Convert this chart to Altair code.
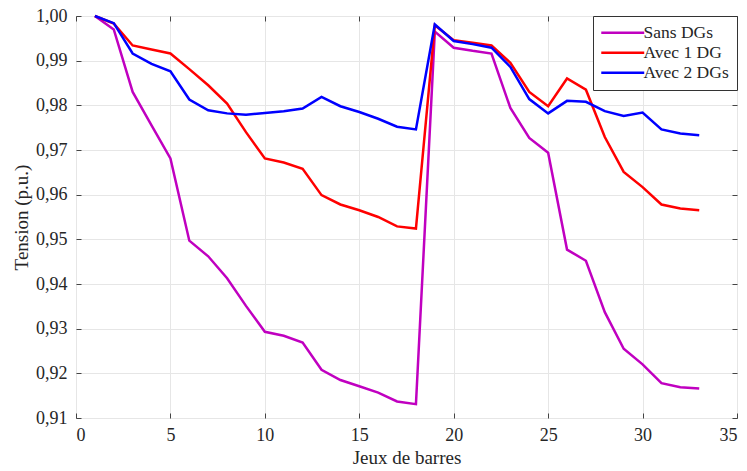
import altair as alt
import pandas as pd

# Bus numbers of the 33-bus feeder
bus = list(range(1, 34))

# Voltage profile per bus (p.u.)
sans_dg = [1.0000, 0.9970, 0.9830, 0.9755, 0.9681, 0.9497, 0.9462, 0.9413, 0.9351, 0.9293,
           0.9284, 0.9269, 0.9208, 0.9185, 0.9171, 0.9157, 0.9137, 0.9131, 0.9965, 0.9929,
           0.9922, 0.9916, 0.9794, 0.9727, 0.9694, 0.9477, 0.9452, 0.9337, 0.9255, 0.9220,
           0.9178, 0.9169, 0.9166]
avec_1dg = [1.0000, 0.9983, 0.9934, 0.9925, 0.9916, 0.9881, 0.9845, 0.9804, 0.9740, 0.9681,
            0.9672, 0.9658, 0.9599, 0.9578, 0.9565, 0.9550, 0.9529, 0.9524, 0.9979, 0.9946,
            0.9940, 0.9934, 0.9895, 0.9830, 0.9798, 0.9860, 0.9835, 0.9729, 0.9651, 0.9617,
            0.9578, 0.9569, 0.9565]
avec_2dg = [1.0000, 0.9984, 0.9916, 0.9893, 0.9876, 0.9813, 0.9789, 0.9782, 0.9779, 0.9783,
            0.9787, 0.9793, 0.9819, 0.9798, 0.9785, 0.9770, 0.9752, 0.9746, 0.9981, 0.9944,
            0.9937, 0.9929, 0.9886, 0.9814, 0.9782, 0.9810, 0.9808, 0.9787, 0.9776, 0.9784,
            0.9746, 0.9737, 0.9733]

series_names = ["Sans DGs", "Avec 1 DG", "Avec 2 DGs"]
series_colors = ["#c000c0", "#ff0000", "#0000ff"]

x_ticks = [0, 5, 10, 15, 20, 25, 30, 35]
y_ticks = [0.91, 0.92, 0.93, 0.94, 0.95, 0.96, 0.97, 0.98, 0.99, 1.00]

rows = []
for name, vals in zip(series_names, [sans_dg, avec_1dg, avec_2dg]):
    for b, v in zip(bus, vals):
        rows.append({"bus": b, "tension": v, "serie": name})
df = pd.DataFrame(rows)

FONT = "Liberation Serif"
INK = "#262626"
xscale = alt.Scale(domain=[0, 35], nice=False)
yscale = alt.Scale(domain=[0.91, 1.0], nice=False, zero=False)
comma_fmt = "replace(format(datum.value, '.2f'), '.', ',')"

lines = alt.Chart(df).mark_line(strokeWidth=2.5).encode(
    x=alt.X("bus:Q", scale=xscale,
            axis=alt.Axis(values=x_ticks, title="Jeux de barres", grid=True, ticks=False,
                          domain=False, labelPadding=8, titlePadding=4)),
    y=alt.Y("tension:Q", scale=yscale,
            axis=alt.Axis(values=y_ticks, labelExpr=comma_fmt, title="Tension (p.u.)",
                          grid=True, ticks=False, domain=False, labelPadding=9,
                          titlePadding=4)),
    color=alt.Color("serie:N",
                    scale=alt.Scale(domain=series_names, range=series_colors),
                    legend=alt.Legend(title=None, orient="top-right", offset=0)),
)


def tick_axis(orient, values):
    # Inward-pointing tick marks (no labels), as on a boxed plot frame
    return alt.Axis(orient=orient, values=values, labels=False, title=None, grid=False,
                    domain=False, ticks=True, tickSize=5, offset=-5, tickColor="#444444")


ticks_bl = alt.Chart(df).mark_point(opacity=0).encode(
    x=alt.X("bus:Q", scale=xscale, axis=tick_axis("bottom", x_ticks)),
    y=alt.Y("tension:Q", scale=yscale, axis=tick_axis("left", y_ticks)),
)
ticks_tr = alt.Chart(df).mark_point(opacity=0).encode(
    x=alt.X("bus:Q", scale=xscale, axis=tick_axis("top", x_ticks)),
    y=alt.Y("tension:Q", scale=yscale, axis=tick_axis("right", y_ticks)),
)

chart = (
    alt.layer(lines, ticks_bl, ticks_tr)
    .resolve_axis(x="independent", y="independent")
    .properties(width=661, height=402,
                padding={"left": 76, "top": 16, "right": 10, "bottom": 53},
                autosize=alt.AutoSizeParams(type="none"), background="white")
    .configure_view(stroke="#333333", strokeWidth=1)
    .configure_axis(labelFont=FONT, labelFontSize=18, labelColor=INK,
                    titleFont=FONT, titleFontSize=19, titleFontWeight="normal",
                    titleColor=INK, gridColor="#e6e6e6")
    .configure_legend(labelFont=FONT, labelFontSize=17.5, labelColor=INK,
                      fillColor="white", strokeColor="#333333", padding=8,
                      symbolType="M-3,0H3", symbolSize=205, symbolStrokeWidth=2.5,
                      symbolOffset=13, labelOffset=12, rowPadding=1)
)

chart.save("out.html", embed_options={"renderer": "svg", "actions": False})
